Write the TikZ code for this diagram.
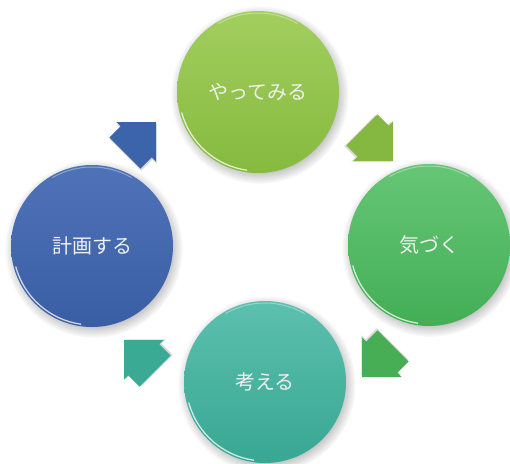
\documentclass[tikz,border=0pt]{standalone}
\usepackage{fontspec}
\newfontfamily\jp{Noto Sans CJK JP}
\usetikzlibrary{shadows}
\definecolor{cA}{HTML}{86BA3F}\definecolor{cAl}{HTML}{A2CE5E}
\definecolor{cB}{HTML}{43AE56}\definecolor{cBl}{HTML}{66C676}
\definecolor{cC}{HTML}{38A793}\definecolor{cCl}{HTML}{5CC0AE}
\definecolor{cD}{HTML}{3A5EA4}\definecolor{cDl}{HTML}{4F72B8}
\definecolor{aA}{HTML}{84B840}
\definecolor{aB}{HTML}{48AE55}
\definecolor{aC}{HTML}{3AAA95}
\definecolor{aD}{HTML}{3C64AA}
\tikzset{
  ball/.style={circle, minimum size=162pt, inner sep=0pt,
    font=\jp\fontsize{20}{20}\selectfont, text=white!88!gray,
    circular drop shadow={shadow xshift=1.5pt, shadow yshift=-2.5pt, opacity=0.25, fill=black}},
  rim/.style={white, opacity=0.75, line width=1.3pt},
}
\newcommand\cyclearrow[3]{%
  \begin{scope}[shift={#1}, rotate=#2]
    \fill[black, opacity=0.15] (-1pt,-2pt) -- (-29pt,26pt) -- (-29pt,20pt) -- (-45pt,20pt) -- (-45pt,-24pt) -- (-29pt,-24pt) -- (-29pt,-30pt) -- cycle;
    \fill[#3] (0pt,0pt) -- (-28pt,28pt) -- (-28pt,22pt) -- (-44pt,22pt) -- (-44pt,-22pt) -- (-28pt,-22pt) -- (-28pt,-28pt) -- cycle;
  \end{scope}}
\begin{document}
\begin{tikzpicture}[x=1pt,y=-1pt]
  \useasboundingbox (0,0) rectangle (510,463);
  \fill[white] (0,0) rectangle (510,463);
  % circles
  \node[ball, top color=cAl, bottom color=cA] (doit) at (258,92) {やってみる};
  \node[ball, top color=cBl, bottom color=cB] (notice) at (429,245) {気づく};
  \node[ball, top color=cCl, bottom color=cC] (think) at (265,382) {考える};
  \node[ball, top color=cDl, bottom color=cD] (plan) at (92,246) {計画する};
  % rim highlights
  \foreach \n in {doit,notice,think,plan}{
    \draw[rim] ([shift={(195:79pt)}]\n.center) arc (195:262:79pt);
    \draw[rim, opacity=0.35, line width=1pt] ([shift={(60:79pt)}]\n.center) arc (60:120:79pt);
  }
  % block arrows
  \cyclearrow{(156,122)}{45}{aD}
  \cyclearrow{(393,161)}{-45}{aA}
  \cyclearrow{(362,377)}{-135}{aB}
  \cyclearrow{(124,340)}{135}{aC}
\end{tikzpicture}
\end{document}
